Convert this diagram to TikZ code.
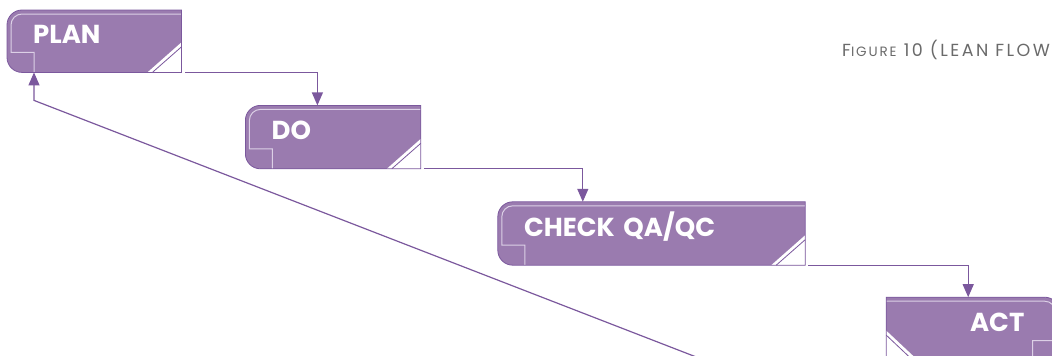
\documentclass[tikz,border=0pt]{standalone}
\usepackage{fontspec}
\setmainfont{Poppins}
\newfontfamily\figfont[LetterSpace=14]{Poppins}
\usetikzlibrary{positioning,arrows.meta,backgrounds}
\definecolor{lilac}{HTML}{9A7BAF}
\definecolor{plum}{HTML}{7B589D}
\definecolor{pale}{HTML}{DCD0E6}
\definecolor{caption}{HTML}{6A6A6A}
\tikzset{
  stage/.style={inner xsep=26pt,inner ysep=0pt,text height=34pt,text depth=29pt,align=left,
    text=white,font=\fontsize{26}{30}\selectfont\bfseries},
  flow/.style={draw=plum,line width=1.2pt,-{Triangle[width=11pt,length=13pt]}},
  figtext/.style={inner sep=0pt,text=caption,font=\figfont\fontsize{17.5}{20}\selectfont},
}
% box with rounded left side, fold bottom right
\newcommand\leftstage[1]{%
  \fill[lilac] (#1.north east) -- ([xshift=15pt]#1.north west) arc[start angle=90,end angle=180,radius=15pt]
    -- ([yshift=15pt]#1.south west) arc[start angle=180,end angle=270,radius=15pt] -- (#1.south east) -- cycle;
  \draw[pale,line width=1pt] ([yshift=-4pt]#1.north east) -- ([shift={(15pt,-4pt)}]#1.north west)
    arc[start angle=90,end angle=180,radius=11pt] -- ([shift={(4pt,20pt)}]#1.south west) -| ([xshift=27pt]#1.south west);
  \fill[white] (#1.south east) -- ([xshift=-34pt]#1.south east) -- ([yshift=30pt]#1.south east) -- cycle;
  \draw[plum,line width=.8pt] ([xshift=-29pt]#1.south east) -- ([yshift=25.5pt]#1.south east);
  \draw[plum,line width=.8pt] (#1.north east) -- ([xshift=15pt]#1.north west) arc[start angle=90,end angle=180,radius=15pt]
    -- ([yshift=15pt]#1.south west) arc[start angle=180,end angle=270,radius=15pt] -- (#1.south east) -- cycle;}
% mirrored box, fold bottom left
\newcommand\rightstage[1]{%
  \fill[lilac] (#1.north west) -- ([xshift=-15pt]#1.north east) arc[start angle=90,end angle=0,radius=15pt]
    -- ([yshift=15pt]#1.south east) arc[start angle=0,end angle=-90,radius=15pt] -- (#1.south west) -- cycle;
  \draw[pale,line width=1pt] ([yshift=-4pt]#1.north west) -- ([shift={(-15pt,-4pt)}]#1.north east)
    arc[start angle=90,end angle=0,radius=11pt] -- ([shift={(-4pt,20pt)}]#1.south east) -| ([xshift=-27pt]#1.south east);
  \fill[white] (#1.south west) -- ([xshift=32pt]#1.south west) -- ([yshift=30pt]#1.south west) -- cycle;
  \draw[plum,line width=.8pt] ([xshift=27pt]#1.south west) -- ([yshift=25.5pt]#1.south west);
  \draw[plum,line width=.8pt] (#1.north west) -- ([xshift=-15pt]#1.north east) arc[start angle=90,end angle=0,radius=15pt]
    -- ([yshift=15pt]#1.south east) arc[start angle=0,end angle=-90,radius=15pt] -- (#1.south west) -- cycle;}

\begin{document}
\begin{tikzpicture}[x=1pt,y=1pt]
\useasboundingbox (0,0) rectangle (1052,-356);
\node[stage,text width=122pt,text height=33pt,anchor=north west] (plan) at (7,-10) {PLAN};
\node[stage,text width=123pt,below right=33pt and 64pt of plan] (do) {DO};
\node[stage,text width=255pt,below right=33pt and 77pt of do] (check) {CHECK QA/QC};
\node[stage,inner xsep=35pt,text width=103pt,align=right,below right=32pt and 81pt of check] (act) {ACT};
\node[figtext,anchor=base west] (fig) at (842,-56) {F{\fontsize{13.5}{16}\selectfont IGURE} 10 (LEAN FLOW};
\begin{scope}[on background layer]
  \leftstage{plan}\leftstage{do}\leftstage{check}\rightstage{act}
\end{scope}
\draw[flow] ([xshift=4pt]plan.south east) -| ([xshift=72pt]do.north west);
\draw[flow] ([xshift=3pt]do.south east) -| ([xshift=85pt]check.north west);
\draw[flow] ([xshift=3pt]check.south east) -| ([xshift=82pt]act.north west);
\coordinate (back) at (704,-360);
\draw[flow] (back) -- ([shift={(27pt,-28pt)}]plan.south west) -- ([xshift=27pt]plan.south west);
\end{tikzpicture}
\end{document}
